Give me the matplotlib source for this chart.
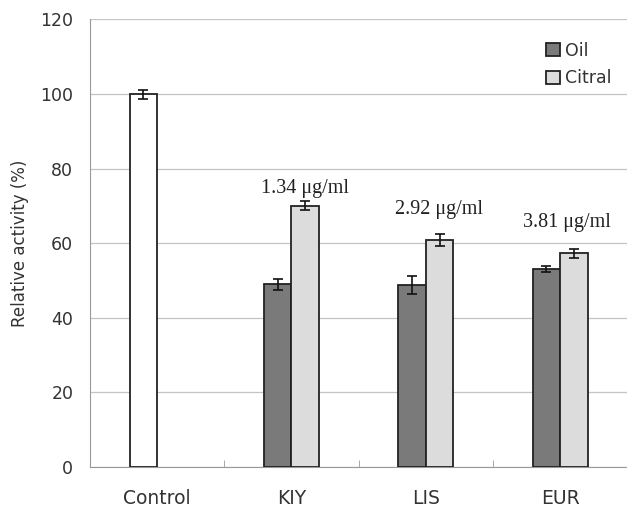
import numpy as np
import matplotlib
matplotlib.use('Agg')
import matplotlib.pyplot as plt

# values
categories = ['Control', 'KIY', 'LIS', 'EUR']
control_value = 100.0
control_err = 1.2
oil_values = [49.0, 48.8, 53.1]
oil_err = [1.5, 2.5, 0.9]
citral_values = [70.1, 60.8, 57.3]
citral_err = [1.3, 1.6, 1.2]
ic50_labels = ['1.34 \u03bcg/ml', '2.92 \u03bcg/ml', '3.81 \u03bcg/ml']
ic50_y = [74.6, 69.0, 65.5]

plt.rcParams['font.family'] = ['DejaVu Sans']

fig = plt.figure(figsize=(6.27, 5.08), dpi=100)
ax = fig.add_axes([0.1435, 0.0807, 0.857, 0.881])

width = 0.205
edge = '#222222'
err_kw = dict(ecolor='#111111', elinewidth=1.2, capsize=3.5, capthick=1.2)

# control bar sits in the left slot of its group
ax.bar(0 - width / 2, control_value, width, yerr=control_err, color='white',
       edgecolor=edge, linewidth=1.3, error_kw=err_kw, zorder=3)

x = np.arange(1, len(categories))
ax.bar(x - width / 2, oil_values, width, yerr=oil_err, color='#7a7a7a',
       edgecolor=edge, linewidth=1.3, error_kw=err_kw, label='Oil', zorder=3)
ax.bar(x + width / 2, citral_values, width, yerr=citral_err, color='#dcdcdc',
       edgecolor=edge, linewidth=1.3, error_kw=err_kw, label='Citral', zorder=3)

for xi, txt, yv in zip([1.10, 2.10, 3.05], ic50_labels, ic50_y):
    ax.text(xi, yv, txt, ha='center', va='center', fontsize=14.5,
            family='Liberation Serif', color='#222222')

ax.set_xlim(-0.5, 3.5)
ax.set_ylim(0, 120)
ax.set_yticks(np.arange(0, 121, 20))
ax.yaxis.grid(True, color='#c4c4c4', linewidth=0.9, zorder=0)
ax.set_axisbelow(True)

ax.set_xticks(range(len(categories)))
ax.set_xticklabels(categories)
ax.set_xticks([0.5, 1.5, 2.5], minor=True)
ax.tick_params(axis='x', which='major', length=0, pad=16, labelsize=13.5, labelcolor='#333333')
ax.tick_params(axis='x', which='minor', direction='in', length=5, color='#999999')
ax.tick_params(axis='y', length=0, pad=12, labelsize=12.5, labelcolor='#333333')

for s in ['top', 'right']:
    ax.spines[s].set_visible(False)
ax.spines['left'].set_color('#999999')
ax.spines['bottom'].set_color('#999999')

ax.set_ylabel('Relative activity (%)', fontsize=12, color='#333333', labelpad=8)

ax.legend(loc='upper right', bbox_to_anchor=(1.0, 0.985), frameon=False,
          fontsize=12.5, handlelength=0.8, handleheight=0.8, handletextpad=0.3,
          labelspacing=0.55, labelcolor='#333333')

fig.savefig('out.png', dpi=100)
